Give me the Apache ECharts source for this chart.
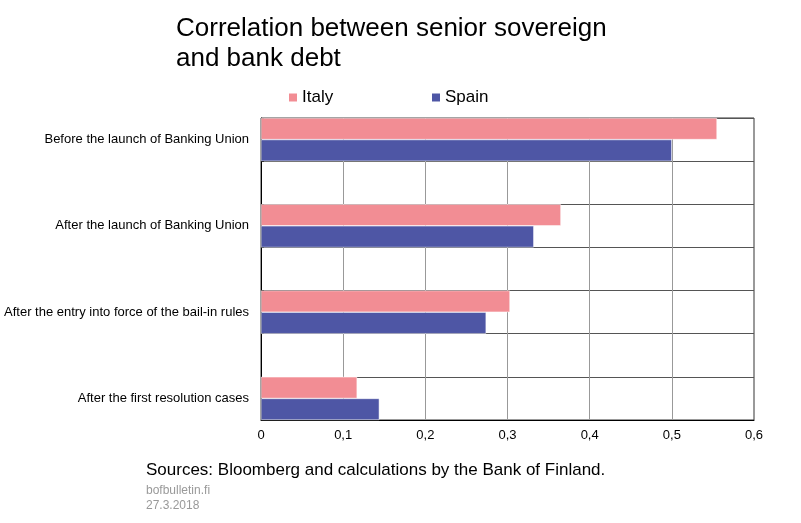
<!DOCTYPE html>
<html>
<head>
<meta charset="utf-8">
<script src="https://cdn.jsdelivr.net/npm/echarts@6/dist/echarts.min.js"></script>
<style>
  html, body { margin: 0; padding: 0; background: #fff; }
  #chart { width: 801px; height: 523px; }
</style>
</head>
<body>
<div id="chart"></div>
<script>
// categories, top to bottom
const categories = [
  'Before the launch of Banking Union',
  'After the launch of Banking Union',
  'After the entry into force of the bail-in rules',
  'After the first resolution cases'
];
const italy = [0.555, 0.365, 0.303, 0.117];
const spain = [0.500, 0.332, 0.274, 0.144];
const xTicks = [0, 0.1, 0.2, 0.3, 0.4, 0.5, 0.6];

// the original has an empty slot between each group
function padded(arr, blank) {
  const out = [];
  arr.forEach((v, i) => {
    out.push(v);
    if (i < arr.length - 1) out.push(blank);
  });
  return out;
}

const slots = padded(categories, '');
const italySlots = padded(italy, '-');
const spainSlots = padded(spain, '-');

const FONT = 'Liberation Sans, Arial, sans-serif';
const legendText = { fontFamily: FONT, fontSize: 17, color: '#000', padding: [0, 0, 0, -1] };
const chart = echarts.init(document.getElementById('chart'));
chart.setOption({
  animation: false,
  title: {
    text: 'Correlation between senior sovereign\nand bank debt',
    left: 176, top: 14, padding: 0,
    textStyle: { fontFamily: FONT, fontSize: 26, fontWeight: 'normal', color: '#000', lineHeight: 30 }
  },
  legend: [
    {
      data: ['Italy'], left: 287, top: 89, padding: 0, itemWidth: 10, itemHeight: 10, itemGap: 5,
      icon: 'rect', textStyle: legendText
    },
    {
      data: ['Spain'], left: 430, top: 89, padding: 0, itemWidth: 10, itemHeight: 10, itemGap: 5,
      icon: 'rect', textStyle: legendText
    }
  ],
  grid: { left: 261, right: 47, top: 118, bottom: 103, show: true, borderColor: '#333', borderWidth: 1 },
  xAxis: {
    type: 'value', min: 0, max: 0.6, interval: 0.1,
    axisLine: { show: true, lineStyle: { color: '#000' } },
    axisTick: { show: false },
    splitLine: { lineStyle: { color: '#999' } },
    axisLabel: {
      fontFamily: FONT, fontSize: 13, color: '#000', margin: 9,
      formatter: v => {
        const t = xTicks.find(x => Math.abs(x - v) < 1e-9);
        return t === 0 ? '0' : String(+(t ?? v).toFixed(1)).replace('.', ',');
      }
    }
  },
  yAxis: {
    type: 'category', data: slots, inverse: true,
    axisLine: { show: true, onZero: false, lineStyle: { color: '#000' } },
    axisTick: { show: true, inside: true, length: 3, lineStyle: { color: '#000' } },
    splitLine: { show: true, interval: 0, lineStyle: { color: '#555' } },
    axisLabel: { interval: 0, fontFamily: FONT, fontSize: 13, color: '#000', margin: 12 }
  },
  series: [
    {
      name: 'Italy', type: 'bar', data: italySlots, barGap: '0%', barCategoryGap: '0%',
      itemStyle: { color: '#F28D94', borderColor: '#fff', borderWidth: 0.5 }
    },
    {
      name: 'Spain', type: 'bar', data: spainSlots, barGap: '0%', barCategoryGap: '0%',
      itemStyle: { color: '#4E56A5', borderColor: '#fff', borderWidth: 0.5 }
    }
  ],
  graphic: [
    { type: 'text', left: 146, top: 462, style: { text: 'Sources: Bloomberg and calculations by the Bank of Finland.', font: '17px ' + FONT, fill: '#000' } },
    { type: 'text', left: 146, top: 485, style: { text: 'bofbulletin.fi', font: '12px ' + FONT, fill: '#999' } },
    { type: 'text', left: 146, top: 500, style: { text: '27.3.2018', font: '12px ' + FONT, fill: '#999' } }
  ]
});
</script>
</body>
</html>
